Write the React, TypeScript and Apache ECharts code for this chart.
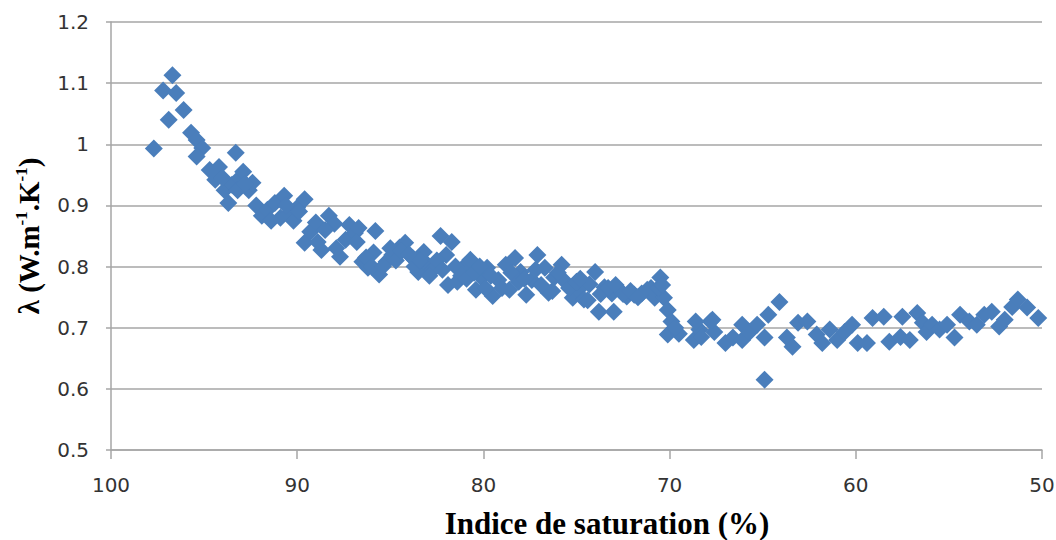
import React, { useEffect, useRef } from "react";
import * as echarts from "echarts";

const satX: number[] = [
  97.7, 97.2, 96.9, 96.7, 96.5, 96.1, 95.7, 95.4, 95.1, 95.4, 94.7, 94.4, 94.2, 93.9, 93.7, 93.5, 93.3, 93.1, 92.9, 92.6,
  92.4, 92.2, 91.9, 91.6, 91.2, 90.9, 90.7, 90.4, 90.0, 89.6, 89.6, 89.3, 89.0, 88.7, 88.3, 88.0, 87.7, 87.4, 87.2, 86.9,
  86.7, 86.5, 86.2, 85.9, 85.8, 85.6, 85.2, 84.9, 84.5, 84.2, 83.8, 83.5, 83.2, 83.0, 82.7, 82.3, 82.0, 81.7, 81.4, 81.1,
  80.7, 80.4, 80.1, 79.8, 79.5, 79.2, 78.8, 78.6, 78.3, 78.0, 77.7, 77.4, 77.1, 76.7, 76.5, 76.2, 75.8, 75.6, 75.2, 74.9,
  74.6, 74.3, 74.0, 73.8, 73.5, 73.1, 73.0, 72.7, 72.3, 71.9, 71.5, 71.2, 70.8, 70.5, 70.3, 70.1, 69.9, 70.1, 69.5, 68.7,
  68.4, 67.8, 67.6,
  68.6, 68.3, 67.7, 67.0, 66.6, 66.1, 66.1, 65.7, 65.3, 64.9, 64.7, 64.1, 64.9, 63.7, 63.4, 63.1, 62.6, 62.1, 61.8, 61.4,
  61.0, 60.6, 60.2, 59.9, 59.4, 59.1, 58.5, 58.2, 57.6, 57.5, 57.1, 56.7, 56.4, 56.2, 55.9, 55.5, 55.1, 54.7, 54.4, 53.9,
  53.5, 53.1, 52.7, 52.3, 52.0, 51.6, 51.3, 50.8, 50.2,
  94.0, 93.2, 92.8, 91.4, 90.6, 90.2, 89.9, 88.9, 88.5, 87.9, 86.8, 86.3, 86.0, 85.4, 85.0, 84.7, 84.4, 84.0, 83.7, 83.4,
  82.9, 82.5, 82.2, 81.9, 81.5, 81.2, 80.9, 80.5, 80.2, 79.9, 79.6, 79.0, 78.5, 78.1, 77.8, 77.2, 76.9, 76.3, 76.0, 75.4,
  75.0, 74.8, 74.4, 73.7, 73.3, 72.9, 72.5, 72.1, 71.7, 71.0, 70.6, 70.4, 69.7,
];

const lambdaY: number[] = [
  0.993, 1.088, 1.04, 1.113, 1.084, 1.056, 1.019, 1.007, 0.994, 0.98, 0.958, 0.942, 0.963, 0.925, 0.904, 0.934, 0.986, 0.945, 0.955, 0.925,
  0.937, 0.9, 0.883, 0.893, 0.904, 0.88, 0.916, 0.888, 0.896, 0.91, 0.839, 0.857, 0.872, 0.827, 0.883, 0.87, 0.816, 0.844, 0.868, 0.855,
  0.863, 0.808, 0.798, 0.823, 0.858, 0.787, 0.808, 0.819, 0.831, 0.839, 0.814, 0.791, 0.824, 0.803, 0.795, 0.85, 0.819, 0.84, 0.775, 0.798,
  0.811, 0.762, 0.782, 0.798, 0.752, 0.778, 0.803, 0.762, 0.814, 0.791, 0.754, 0.778, 0.819, 0.798, 0.757, 0.782, 0.803, 0.775, 0.749, 0.762,
  0.746, 0.771, 0.791, 0.726, 0.766, 0.756, 0.726, 0.762, 0.751, 0.754, 0.756, 0.762, 0.749, 0.782, 0.749, 0.729, 0.71, 0.689, 0.69, 0.68,
  0.697, 0.71, 0.693,
  0.71, 0.685, 0.713, 0.675, 0.684, 0.705, 0.68, 0.693, 0.705, 0.684, 0.721, 0.742, 0.615, 0.684, 0.669, 0.708, 0.71, 0.689, 0.675, 0.697,
  0.68, 0.693, 0.705, 0.675, 0.675, 0.716, 0.718, 0.677, 0.685, 0.718, 0.68, 0.724, 0.708, 0.693, 0.705, 0.697, 0.705, 0.684, 0.721, 0.71,
  0.705, 0.721, 0.726, 0.702, 0.713, 0.734, 0.746, 0.733, 0.716,
  0.945, 0.925, 0.935, 0.875, 0.9, 0.875, 0.89, 0.84, 0.86, 0.83, 0.84, 0.815, 0.8, 0.8, 0.83, 0.81, 0.825, 0.82, 0.8, 0.81,
  0.785, 0.81, 0.795, 0.77, 0.8, 0.785, 0.78, 0.79, 0.8, 0.765, 0.785, 0.765, 0.79, 0.775, 0.78, 0.795, 0.77, 0.76, 0.79, 0.765,
  0.775, 0.78, 0.745, 0.755, 0.765, 0.77, 0.755, 0.76, 0.75, 0.765, 0.765, 0.77, 0.7,
];

const xTitle = "Indice de saturation (%)";

export default function App() {
  const ref = useRef<HTMLDivElement>(null);
  useEffect(() => {
    if (!ref.current) return;
    const chart = echarts.init(ref.current, undefined, { renderer: "svg" });
    const n = Math.min(satX.length, lambdaY.length);
    const data: number[][] = [];
    for (let i = 0; i < n; i++) data.push([satX[i], lambdaY[i]]);
    chart.setOption({
      animation: false,
      backgroundColor: "#ffffff",
      grid: { left: 111, right: 14, top: 22, bottom: 90, containLabel: false, outerBoundsMode: "none" },
      xAxis: {
        type: "value",
        min: 50,
        max: 100,
        interval: 10,
        inverse: true,
        axisLine: { show: true, lineStyle: { color: "#a6a6a6", width: 1.5 } },
        axisTick: { show: true, length: 9, lineStyle: { color: "#a6a6a6", width: 1.5 } },
        axisLabel: { color: "#333", fontSize: 20, fontFamily: "DejaVu Sans", margin: 25 },
        splitLine: { show: false },
      },
      yAxis: {
        type: "value",
        min: 0.5,
        max: 1.2,
        interval: 0.1,
        axisLine: { show: true, lineStyle: { color: "#a6a6a6", width: 1.5 } },
        axisTick: { show: true, length: 5, lineStyle: { color: "#a6a6a6", width: 1.5 } },
        axisLabel: {
          color: "#333",
          fontSize: 20,
          fontFamily: "DejaVu Sans",
          margin: 22,
          formatter: (v: number) => String(Math.round(v * 10) / 10),
        },
        splitLine: { show: true, lineStyle: { color: "#a6a6a6", width: 1.5 } },
        name: "{m|λ (W.m}{s|-1}{m|.K}{s|-1}{m|)}",
        nameLocation: "middle",
        nameRotate: 90,
        nameGap: 68,
        nameTextStyle: {
          rich: {
            m: { fontFamily: "Liberation Serif", fontWeight: "bold", fontSize: 29, color: "#000", lineHeight: 30, verticalAlign: "bottom" },
            s: { fontFamily: "Liberation Serif", fontWeight: "bold", fontSize: 17, color: "#000", lineHeight: 30, verticalAlign: "top" },
          },
        },
      },
      graphic: [
        {
          type: "text",
          x: 607,
          y: 523,
          style: {
            text: xTitle,
            fontFamily: "Liberation Serif",
            fontWeight: "bold",
            fontSize: 31,
            fill: "#000",
            textAlign: "center",
            textVerticalAlign: "middle",
          },
        },
      ],
      series: [
        {
          type: "scatter",
          data,
          symbol: "diamond",
          symbolSize: [18, 18],
          itemStyle: { color: "#4a7ebb", opacity: 1 },
        },
      ],
    });
    return () => chart.dispose();
  }, []);
  return <div ref={ref} style={{ width: 1056, height: 540, position: "absolute", left: 0, top: 0 }} />;
}
